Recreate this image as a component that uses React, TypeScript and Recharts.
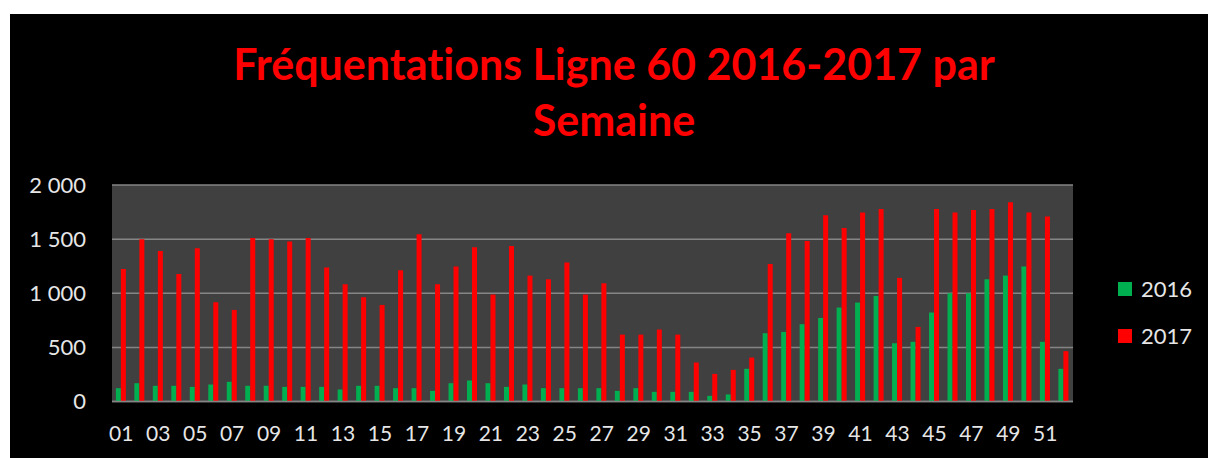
import { BarChart, Bar, XAxis, YAxis, CartesianGrid, Legend } from "recharts";

const weeks = [
  "01", "02", "03", "04", "05", "06", "07", "08", "09", "10",
  "11", "12", "13", "14", "15", "16", "17", "18", "19", "20",
  "21", "22", "23", "24", "25", "26", "27", "28", "29", "30",
  "31", "32", "33", "34", "35", "36", "37", "38", "39", "40",
  "41", "42", "43", "44", "45", "46", "47", "48", "49", "50",
  "51", "52",
];

const values2016 = [
  123, 169, 145, 145, 135, 157, 182, 145, 145, 135,
  135, 135, 111, 145, 145, 123, 123, 98, 169, 194,
  169, 135, 157, 123, 123, 123, 123, 98, 123, 89,
  89, 89, 52, 65, 302, 631, 643, 714, 772, 868,
  914, 975, 538, 551, 822, 1000, 1000, 1129, 1163, 1246,
  551, 302,
];

const values2017 = [
  1225, 1498, 1391, 1178, 1415, 917, 846, 1511, 1498, 1477,
  1511, 1237, 1083, 963, 892, 1212, 1545, 1083, 1246, 1425,
  988, 1437, 1163, 1129, 1283, 988, 1092, 618, 618, 665,
  618, 360, 255, 292, 406, 1271, 1554, 1483, 1720, 1603,
  1745, 1779, 1142, 689, 1779, 1745, 1769, 1779, 1840, 1745,
  1708, 465,
];

const yTicks = [0, 500, 1000, 1500, 2000];

const chartData = weeks.map((w, i) => ({
  week: w,
  y2016: values2016[i],
  y2017: values2017[i],
}));

if (typeof document !== "undefined") {
  document.body.style.margin = "0";
  document.body.style.overflow = "hidden";
}

function formatThousands(v: number): string {
  if (v < 1000) return String(v);
  return `${Math.floor(v / 1000)} ${String(v % 1000).padStart(3, "0")}`;
}

const textFont = "Lato, 'Open Sans', sans-serif";

// eslint-disable-next-line @typescript-eslint/no-explicit-any
function renderLegend(props: any) {
  const items = props.payload || [];
  return (
    <div style={{ fontFamily: textFont }}>
      {/* eslint-disable-next-line @typescript-eslint/no-explicit-any */}
      {items.map((entry: any) => (
        <div
          key={entry.value}
          style={{ display: "flex", alignItems: "center", height: 47 }}
        >
          <span
            style={{
              display: "inline-block",
              width: 14,
              height: 14,
              background: entry.color,
              marginRight: 9,
            }}
          />
          <span style={{ color: "#e6e6e6", fontSize: 22 }}>{entry.value}</span>
        </div>
      ))}
    </div>
  );
}

export default function App() {
  return (
    <div style={{ position: "relative", width: 1208, height: 458, background: "#fff" }}>
      <div
        style={{
          position: "absolute",
          left: 10,
          top: 14,
          width: 1198,
          height: 444,
          background: "#000",
        }}
      >
        <div
          style={{
            position: "absolute",
            left: 5,
            top: 22,
            width: 1198,
            textAlign: "center",
            color: "#ff0000",
            fontFamily: textFont,
            fontWeight: 700,
            fontSize: 43,
            lineHeight: "56px",
            fontVariantLigatures: "none",
          }}
        >
          Fréquentations Ligne 60 2016-2017 par
          <br />
          Semaine
        </div>
        <BarChart
          width={1198}
          height={444}
          data={chartData}
          margin={{ top: 171, right: 45, left: 0, bottom: 0 }}
          barCategoryGap="21%"
          barGap={0}
        >
          <CartesianGrid
            vertical={false}
            fill="#404040"
            stroke="#858585"
            strokeWidth={1.5}
          />
          <XAxis
            dataKey="week"
            interval={1}
            height={56.5}
            tickSize={0}
            tickMargin={25}
            tickLine={false}
            axisLine={{ stroke: "#858585", strokeWidth: 1.5 }}
            tick={{ fill: "#e6e6e6", fontSize: 21, fontFamily: textFont }}
          />
          <YAxis
            width={102}
            domain={[0, 2000]}
            ticks={yTicks}
            tickSize={0}
            tickMargin={26}
            tickLine={false}
            axisLine={false}
            tickFormatter={formatThousands}
            tick={{ fill: "#e6e6e6", fontSize: 22, fontFamily: textFont }}
          />
          <Legend
            layout="horizontal"
            verticalAlign="middle"
            align="right"
            content={renderLegend}
            wrapperStyle={{
              left: 1108,
              top: 251,
              right: "auto",
              bottom: "auto",
              width: 90,
            }}
          />
          <Bar dataKey="y2016" name="2016" fill="#00b050" isAnimationActive={false} />
          <Bar dataKey="y2017" name="2017" fill="#ff0000" isAnimationActive={false} />
        </BarChart>
      </div>
    </div>
  );
}
